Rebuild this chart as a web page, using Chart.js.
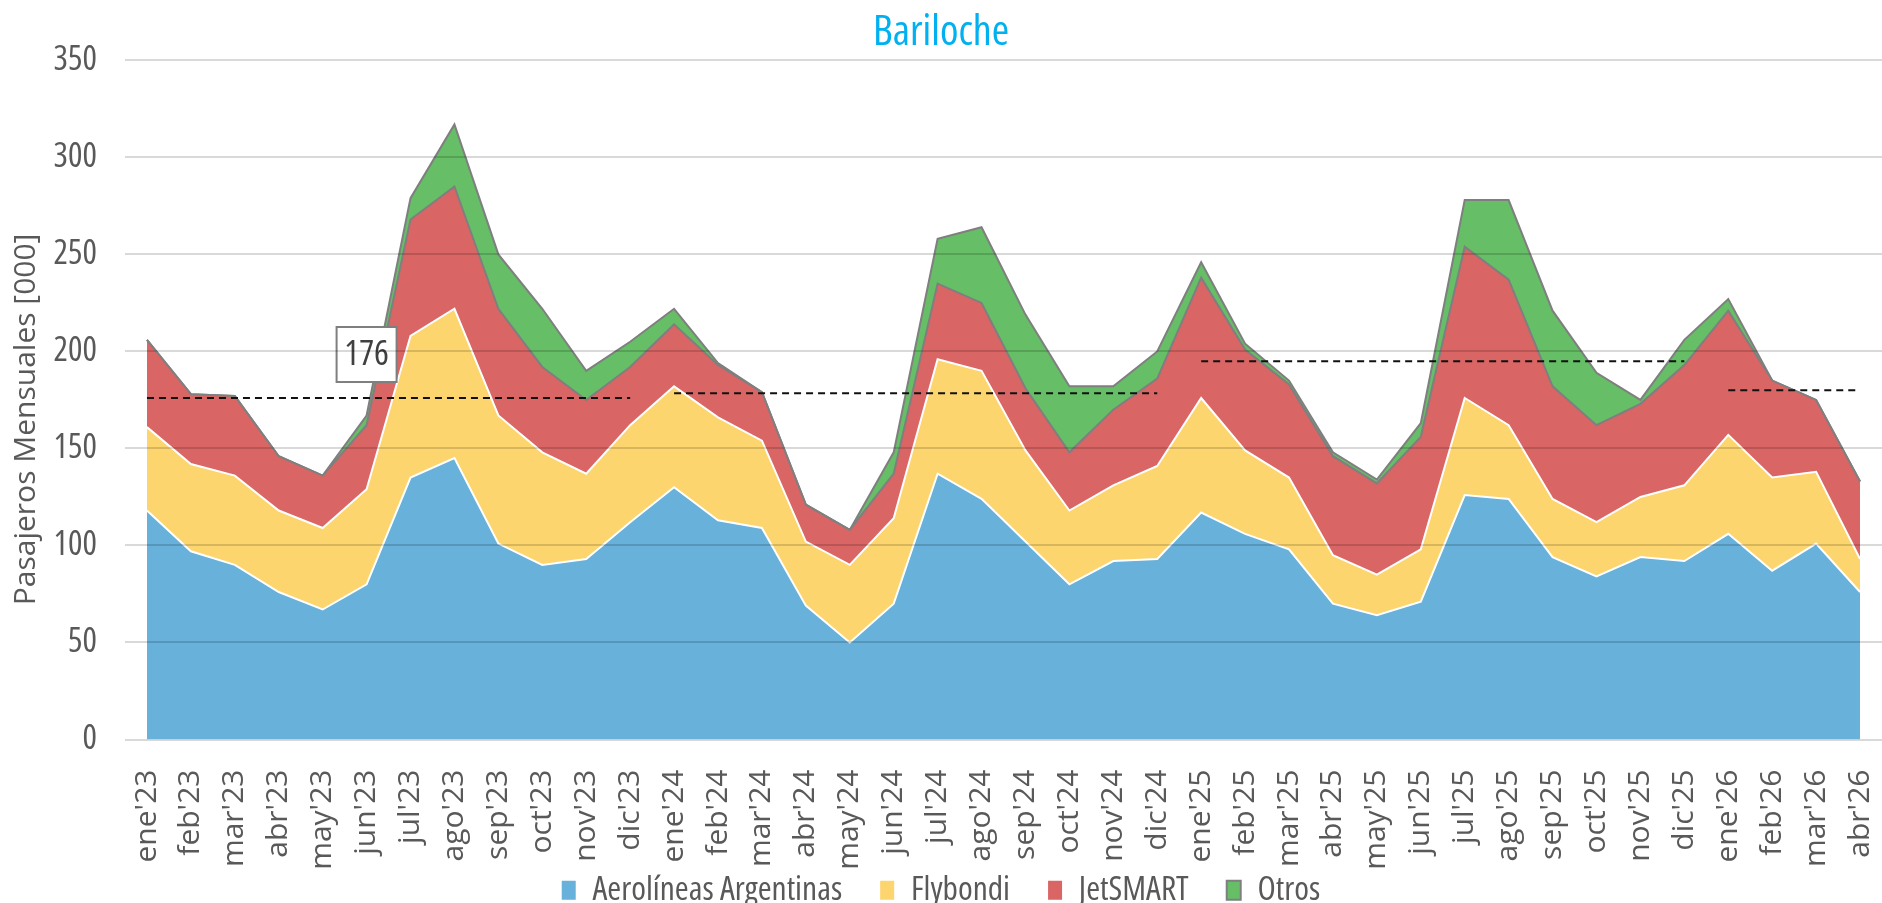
<!DOCTYPE html>
<html>
<head>
<meta charset="utf-8">
<title>Bariloche</title>
<script src="https://cdn.jsdelivr.net/npm/chart.js@4.4.1/dist/chart.umd.min.js"></script>
<style>
  html, body { margin: 0; padding: 0; background: #fff; }
  #wrap { width: 1882px; height: 903px; position: relative; }
</style>
</head>
<body>
<div id="wrap"><canvas id="myChart"></canvas></div>
<script>
const meses = ["ene'23","feb'23","mar'23","abr'23","may'23","jun'23","jul'23","ago'23","sep'23","oct'23","nov'23","dic'23",
  "ene'24","feb'24","mar'24","abr'24","may'24","jun'24","jul'24","ago'24","sep'24","oct'24","nov'24","dic'24",
  "ene'25","feb'25","mar'25","abr'25","may'25","jun'25","jul'25","ago'25","sep'25","oct'25","nov'25","dic'25",
  "ene'26","feb'26","mar'26","abr'26"];

// pasajeros mensuales [000] por aerolinea
const aerolineas = [118, 97, 90, 76, 67, 80, 135, 145, 101, 90, 93, 112, 130, 113, 109, 69, 50, 70, 137, 124, 102, 80, 92, 93, 117, 106, 98, 70, 64, 71, 126, 124, 94, 84, 94, 92, 106, 87, 101, 76];
const flybondi = [43, 45, 46, 42, 42, 49, 73, 77, 66, 58, 44, 50, 52, 53, 45, 33, 40, 44, 59, 66, 47, 38, 39, 48, 59, 43, 37, 25, 21, 27, 50, 38, 30, 28, 31, 39, 51, 48, 37, 17];
const jetsmart = [45, 36, 41, 28, 27, 33, 60, 63, 55, 44, 38, 30, 32, 27, 25, 19, 18, 23, 39, 35, 32, 30, 39, 45, 62, 52, 48, 51, 47, 58, 78, 75, 58, 50, 48, 62, 64, 50, 37, 40];
const otros = [0, 0, 0, 0, 0, 5, 11, 32, 28, 30, 15, 13, 8, 1, 0, 0, 0, 11, 23, 39, 38, 34, 12, 14, 8, 3, 2, 2, 2, 7, 24, 41, 39, 27, 2, 13, 6, 0, 0, 0];

// lineas punteadas (promedio por año)
const promedioValores = [176, 178.5, 195, 180];
const promedioDesde = ["ene'23", "ene'24", "ene'25", "ene'26"];
const promedioHasta = ["dic'23", "dic'24", "dic'25", "abr'26"];

const yTicks = [0, 50, 100, 150, 200, 250, 300, 350];

const sans = "'Open Sans', 'DejaVu Sans', sans-serif";
const gris = '#595959';
// Open Sans angosta (font-stretch condensed va en el lugar del weight)
const angosta = (size) => ({ family: sans, size: size, weight: 'condensed' });

const areaDs = (label, data, color, border) => ({
  label: label,
  data: data,
  backgroundColor: color,
  borderColor: border,
  borderWidth: 2,
  pointRadius: 0,
  tension: 0,
  stack: 'pax'
});

const datasets = [
  Object.assign(areaDs('Aerolíneas Argentinas', aerolineas, '#67B1DA', '#ffffff'), {fill: 'origin'}),
  Object.assign(areaDs('Flybondi', flybondi, '#FDD56E', '#ffffff'), {fill: '-1'}),
  Object.assign(areaDs('JetSMART', jetsmart, '#D96565', '#7F7F7F'), {fill: '-1'}),
  Object.assign(areaDs('Otros', otros, '#66BE66', '#7F7F7F'), {fill: '-1'})
];

promedioValores.forEach((v, i) => {
  datasets.push({
    label: 'prom' + i,
    data: [{x: promedioDesde[i], y: v}, {x: promedioHasta[i], y: v}],
    borderColor: '#111111',
    borderWidth: 2,
    borderDash: [7, 5],
    pointRadius: 0,
    fill: false,
    stack: 'prom' + i,
    order: -1
  });
});

// caja con el valor del primer promedio
const etiqueta = {
  id: 'etiqueta',
  afterDatasetsDraw(chart) {
    const c = chart.ctx;
    const x = chart.scales.x.getPixelForValue(meses.indexOf("jun'23"));
    const y = chart.scales.y.getPixelForValue(promedioValores[0]);
    const w = 60, h = 55;
    const top = y - 16 - h;
    c.save();
    c.fillStyle = '#ffffff';
    c.strokeStyle = '#7F7F7F';
    c.lineWidth = 2;
    c.fillRect(x - w / 2, top, w, h);
    c.strokeRect(x - w / 2, top, w, h);
    c.fillStyle = '#404040';
    c.font = 'condensed 35px ' + sans;
    c.textAlign = 'center';
    c.textBaseline = 'middle';
    c.fillText(String(promedioValores[0]), x, top + h / 2 + 1);
    c.restore();
  }
};

// las etiquetas del eje x pasan por debajo de la leyenda: no recortarlas
const sinRecorte = {
  id: 'sinRecorte',
  afterLayout(chart) {
    chart.scales.x.bottom = chart.height;
  }
};

const ctx = document.getElementById('myChart');

let chart = new Chart(ctx, {
  type: 'line',
  data: {
    labels: meses,
    datasets: datasets
  },
  plugins: [etiqueta, sinRecorte],
  options: {
    responsive: true,
    maintainAspectRatio: false,
    animation: false,
    layout: { padding: { left: 0, right: 0, top: 0, bottom: -14 } },
    plugins: {
      title: {
        display: true,
        text: 'Bariloche',
        color: '#00B0F0',
        font: angosta(42),
        padding: { top: 8, bottom: 2 }
      },
      legend: {
        position: 'bottom',
        labels: {
          color: gris,
          font: angosta(33.5),
          boxWidth: 14,
          boxHeight: 19,
          padding: 38,
          filter: (item) => item.datasetIndex < 4,
          generateLabels: (chart) => Chart.defaults.plugins.legend.labels.generateLabels(chart).map(l => {
            l.lineWidth = l.datasetIndex === 3 ? 2 : 0;
            l.strokeStyle = '#7F7F7F';
            return l;
          })
        }
      },
      tooltip: { enabled: false }
    },
    scales: {
      x: {
        offset: true,
        grid: { display: false },
        border: { display: false },
        ticks: {
          color: gris,
          font: { family: sans, size: 30 },
          minRotation: 90,
          maxRotation: 90,
          autoSkip: false,
          padding: 22
        },
        afterFit: (scale) => {
          scale.height = 96;
          scale.paddingLeft = 0;
          scale.paddingRight = 0;
        }
      },
      y: {
        stacked: true,
        min: 0,
        max: 350,
        afterBuildTicks: (scale) => { scale.ticks = yTicks.map(v => ({value: v})); },
        grid: { color: 'rgba(0,0,0,0.15)', lineWidth: 2, drawTicks: false, z: 1 },
        border: { display: false },
        ticks: {
          color: gris,
          font: angosta(34),
          padding: 28
        },
        title: {
          display: true,
          text: 'Pasajeros Mensuales [000]     ',
          color: gris,
          font: { family: sans, size: 30 },
          padding: { top: 8, bottom: 4 }
        },
        afterFit: (scale) => { scale.width = 125; }
      }
    }
  }
});
</script>
</body>
</html>
